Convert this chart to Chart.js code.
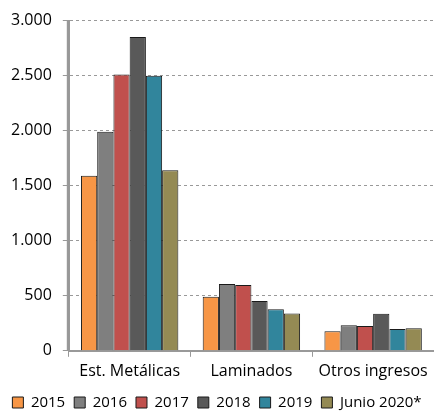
<!DOCTYPE html>
<html>
<head>
<meta charset="utf-8">
<script src="https://cdn.jsdelivr.net/npm/chart.js@4"></script>
<style>
  html, body { margin: 0; padding: 0; background: #fff; }
  #wrap { width: 434px; height: 414px; }
</style>
</head>
<body>
<div id="wrap"><canvas id="ventasChart" width="434" height="414"></canvas></div>
<script>
const categorias = ['Est. Metálicas', 'Laminados', 'Otros ingresos'];
const serie2015 = [1590, 490, 177];
const serie2016 = [1990, 607, 232];
const serie2017 = [2510, 598, 226];
const serie2018 = [2850, 452, 336];
const serie2019 = [2500, 378, 198];
const serieJunio2020 = [1640, 339, 205];
const yTicks = [0, 500, 1000, 1500, 2000, 2500, 3000];

const fuente = "'Open Sans', 'Lato', sans-serif";

function serie(label, data, color) {
    return {
        label: label,
        data: data,
        backgroundColor: color,
        borderColor: '#1a1a1a',
        borderWidth: 1,
        barPercentage: 1,
        categoryPercentage: 0.8
    };
}

// linea solida del eje Y encima del borde punteado
const ejeY = {
    id: 'ejeY',
    afterDatasetsDraw(chart) {
        const a = chart.chartArea;
        const c = chart.ctx;
        c.save();
        c.strokeStyle = '#999';
        c.lineWidth = 2;
        c.beginPath();
        c.moveTo(a.left - 1, a.top);
        c.lineTo(a.left - 1, a.bottom);
        c.stroke();
        c.restore();
    }
};

const ctx = document.getElementById('ventasChart').getContext('2d');
new Chart(ctx, {
    type: 'bar',
    data: {
        labels: categorias,
        datasets: [
            serie('2015', serie2015, '#F79646'),
            serie('2016', serie2016, '#7F7F7F'),
            serie('2017', serie2017, '#C0504D'),
            serie('2018', serie2018, '#595959'),
            serie('2019', serie2019, '#31859C'),
            serie('Junio 2020*', serieJunio2020, '#948A54')
        ]
    },
    options: {
        responsive: false,
        animation: false,
        layout: { padding: { top: 11, right: 0, left: 0, bottom: -6 } },
        plugins: {
            tooltip: { enabled: false },
            legend: {
                position: 'bottom',
                labels: {
                    font: { family: fuente, size: 15 },
                    color: '#000',
                    boxWidth: 11,
                    boxHeight: 11,
                    padding: 9
                }
            }
        },
        scales: {
            x: {
                grid: {
                    offset: true,
                    drawOnChartArea: false,
                    drawTicks: true,
                    tickLength: 6,
                    color: '#999'
                },
                border: { color: '#999', width: 2 },
                ticks: {
                    font: { family: fuente, size: 16 },
                    color: '#000',
                    padding: 5
                }
            },
            y: {
                min: 0,
                max: 3000,
                afterBuildTicks: axis => {
                    axis.ticks = yTicks.map(v => ({ value: v }));
                },
                grid: {
                    color: '#999',
                    tickLength: 6
                },
                border: { color: '#999', width: 2, dash: [3, 3] },
                ticks: {
                    font: { family: fuente, size: 16 },
                    color: '#000',
                    padding: 11,
                    callback: value => String(value).replace(/^(\d)(\d{3})$/, '$1.$2')
                }
            }
        }
    },
    plugins: [ejeY]
});
</script>
</body>
</html>
